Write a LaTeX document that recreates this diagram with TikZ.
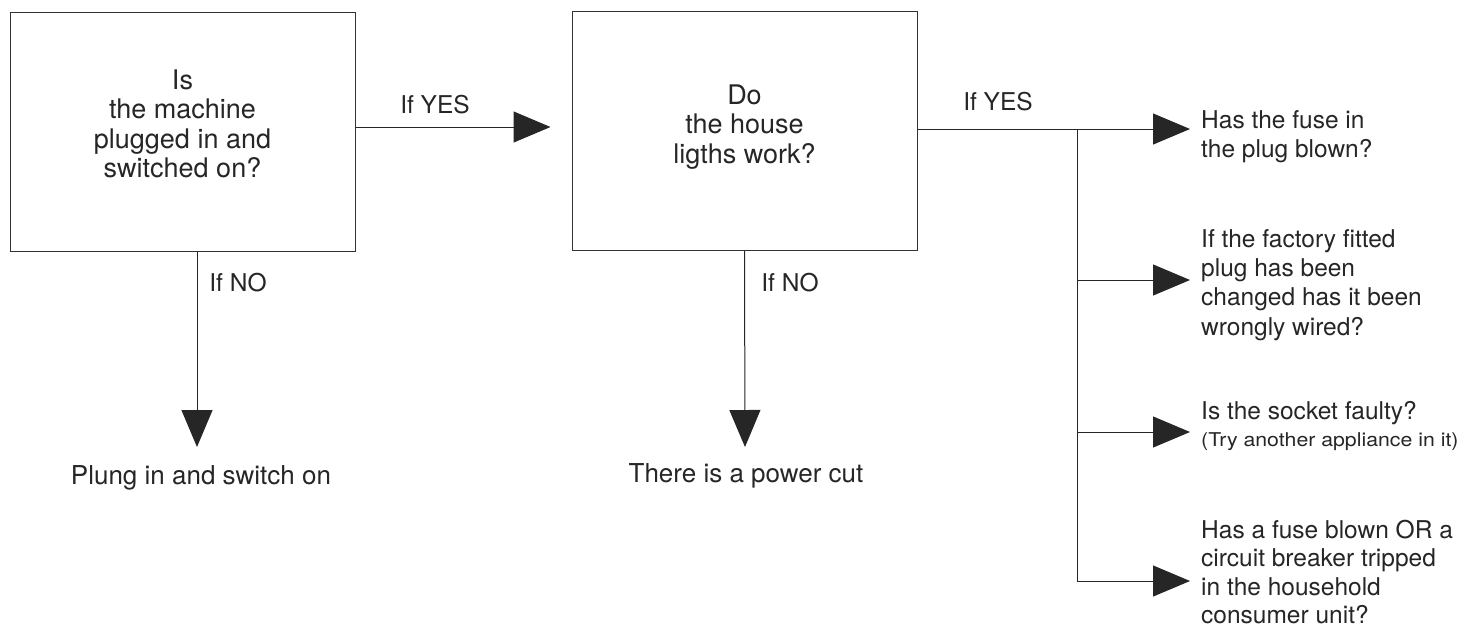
\documentclass[tikz,border=0pt]{standalone}
\usepackage{fontspec}
\setmainfont{TeX Gyre Heros}
\usetikzlibrary{arrows.meta}
\begin{document}
\begin{tikzpicture}[x=1pt,y=-1pt,
  every node/.style={font=\fontsize{24.5}{29.3}\selectfont, text=black!85, inner sep=0pt},
  qbox/.style={draw=black!80, line width=1pt, minimum width=345pt, minimum height=239pt},
  qtext/.style={align=center, font=\fontsize{27}{29.5}\selectfont},
  atext/.style={font=\fontsize{26}{29.5}\selectfont},
  line/.style={draw=black!85, line width=1pt},
  arr/.style={line, -{Triangle[length=37pt,width=31pt]}},
  ans/.style={align=left, anchor=west}]
\useasboundingbox[fill=white] (0,0) rectangle (1457,630);
\node[qbox] (b1) at (182.5,131.5) {};
\node[qtext] (t1) at (182.5,124) {Is\\the machine\\plugged in and\\switched on?};
\node[qbox] (b2) at (744.5,131) {};
\node[qtext] (t2) at (744.5,127) {Do\\the house\\ligths work?};
\node (y1) at (435,105) {If YES};
\node (y2) at (998,102) {If YES};
\node (n1) at (238,283) {If NO};
\node (n2) at (790,283) {If NO};
\node[atext] (a1) at (201,478) {Plung in and switch on};
\node[atext] (a2) at (746,476) {There is a power cut};
\node[ans] (r1) at (1201,137) {Has the fuse in\\the plug blown?};
\node[ans] (r2) at (1201,285) {If the factory fitted\\plug has been\\changed has it been\\wrongly wired?};
\node[ans] (r3) at (1201,426) {Is the socket faulty?\\[-3pt]{\fontsize{19}{20}\selectfont\scalebox{1.12}[1]{(Try another appliance in it)}}};
\node[ans, font=\fontsize{24.5}{28.5}\selectfont] (r4) at (1201,572) {Has a fuse blown OR a\\circuit breaker tripped\\in the household\\consumer unit?};
\coordinate (j1) at (1077,129);
\coordinate (j2) at (1077,280);
\coordinate (j3) at (1077,432);
\coordinate (j4) at (1077,581);
\draw[arr, shorten >=21pt] (b1.east |- 0,127) -- (b2.west |- 0,127);
\draw[arr] (b2.east |- j1) -- (1190,129);
\draw[line] (j1) -- (j4);
\draw[arr] (j2) -- (1190,280);
\draw[arr] (j3) -- (1190,432);
\draw[arr] (j4) -- (1190,581);
\draw[arr] (b1.south -| 197,0) -- (197,447);
\draw[arr] (b2.south) -- (745,447);
\end{tikzpicture}
\end{document}
